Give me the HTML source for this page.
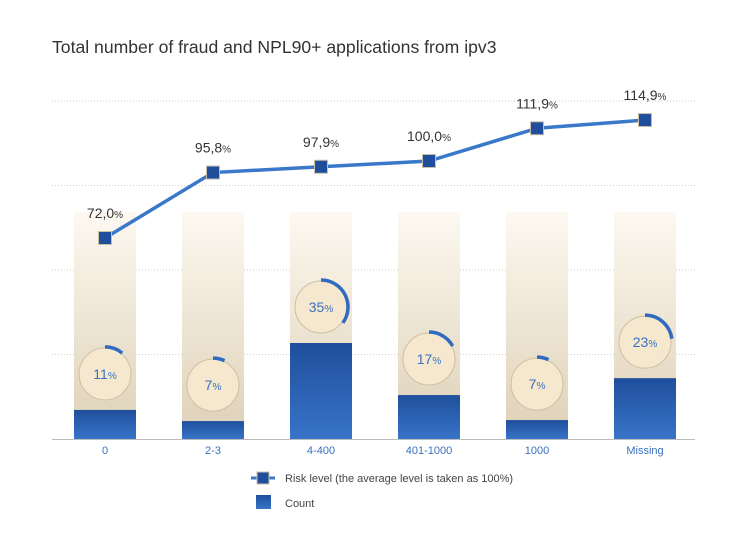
<!DOCTYPE html>
<html><head><meta charset="utf-8"><style>
body{margin:0;background:#fff;font-family:"Liberation Sans",sans-serif}
</style></head><body>
<svg width="753" height="528" xmlns="http://www.w3.org/2000/svg" id="svg">
<defs>
<linearGradient id="bg" x1="0" y1="0" x2="0" y2="1"><stop offset="0" stop-color="#fdf9f1"/><stop offset="1" stop-color="#ddd0b6"/></linearGradient>
<linearGradient id="bar" x1="0" y1="0" x2="0" y2="1"><stop offset="0" stop-color="#1f4f9c"/><stop offset="1" stop-color="#3874c8"/></linearGradient>
</defs>
<text x="52" y="53" font-size="17.6" fill="#333">Total number of fraud and NPL90+ applications from ipv3</text>
<g id="grid"></g><g id="bars"></g><g id="line"></g>
<line x1="52" y1="439.5" x2="695" y2="439.5" stroke="#bbb"/>
<g>
<line x1="251" y1="478" x2="275" y2="478" stroke="#3a78c9" stroke-width="3"/>
<rect x="257" y="472" width="12" height="12" fill="#1f4f9c" stroke="#cbbfa5"/>
<text x="285" y="482" font-size="11" fill="#444">Risk level (the average level is taken as 100%)</text>
<rect x="256" y="495" width="15" height="14" fill="url(#bar)"/>
<text x="285" y="507" font-size="11" fill="#444">Count</text>
</g>
</svg>
<script>
const categories=["0","2-3","4-400","401-1000","1000","Missing"];
const counts=[8.6,5.3,28.4,13,5.6,18];
const shares=[11,7,35,17,7,23];
const risk=[72.0,95.8,97.9,100.0,111.9,114.9];
const riskLabels=["72,0","95,8","97,9","100,0","111,9","114,9"];
const NS="http://www.w3.org/2000/svg";
const X=i=>105+i*108;
const YC=v=>439-v*338/100;
const YR=v=>238-(v-72)*2.75;
function mk(t,a,p){const e=document.createElementNS(NS,t);for(const k in a)e.setAttribute(k,a[k]);p.appendChild(e);return e;}
const g=document.getElementById('grid'),b=document.getElementById('bars'),l=document.getElementById('line');
[25,50,75,100].forEach(v=>{const e=mk('line',{x1:52,x2:695,y1:YC(v),y2:YC(v),stroke:'#d8d0c0','stroke-dasharray':'1 2'},g);

});
categories.forEach((c,i)=>{const x=X(i);
const bg=mk('rect',{x:x-31,y:212,width:62,height:227,fill:'url(#bg)'},b);


const top=YC(counts[i]);
const r=mk('rect',{x:x-31,y:top,width:62,height:439-top,fill:'url(#bar)'},b);


const cy=top-36;
const ci=mk('circle',{cx:x,cy:cy,r:26,fill:'#f5e8cf',stroke:'#cdbf9f'},b);


const a=shares[i]/100*2*Math.PI,R=27;
const arc=mk('path',{d:`M${x} ${cy-R} A${R} ${R} 0 ${a>Math.PI?1:0} 1 ${x+R*Math.sin(a)} ${cy-R*Math.cos(a)}`,fill:'none',stroke:'#2f6bbf','stroke-width':3.5},b);


const t=mk('text',{x:x,y:cy+5,'text-anchor':'middle','font-size':14,fill:'#3a70bf'},b);


t.innerHTML=shares[i]+'<tspan font-size="10">%</tspan>';
const xl=mk('text',{x:x,y:454,'text-anchor':'middle','font-size':11,fill:'#3a70bf'},b);


xl.textContent=c;});
const pl=mk('polyline',{points:risk.map((v,i)=>X(i)+','+YR(v)).join(' '),fill:'none',stroke:'#3a78c9','stroke-width':3.5},l);


risk.forEach((v,i)=>{const x=X(i),y=YR(v);
const m=mk('rect',{x:x-6.5,y:y-6.5,width:13,height:13,fill:'#1f4f9c',stroke:'#cbbfa5'},l);


const t=mk('text',{x:x,y:y-20,'text-anchor':'middle','font-size':14,fill:'#333'},l);


t.innerHTML=riskLabels[i]+'<tspan font-size="10">%</tspan>';});
</script>
</body></html>
